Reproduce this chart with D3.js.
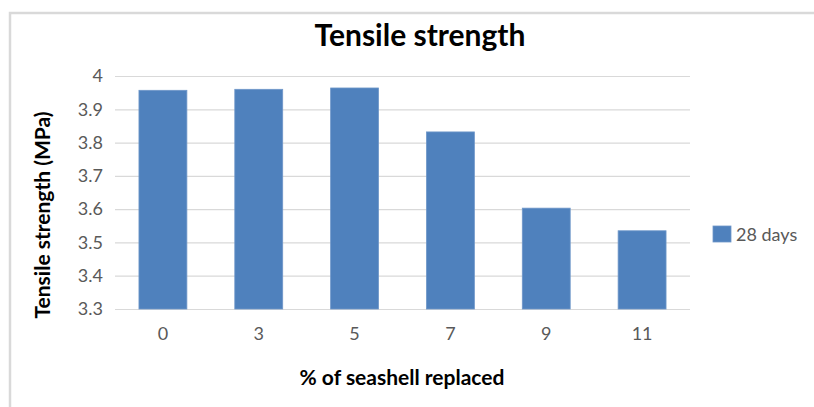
<!DOCTYPE html>
<html>
<head>
<meta charset="utf-8">
<script src="https://cdn.jsdelivr.net/npm/d3@7"></script>
<style>
  body { margin: 0; background: #fff; overflow: hidden; }
  text { font-family: Lato, "Open Sans", sans-serif; }
</style>
</head>
<body>
<div id="chart"></div>
<script>
// data
const categories = ["0", "3", "5", "7", "9", "11"];
const values28 = [3.957, 3.960, 3.964, 3.832, 3.603, 3.535];
const yTicks = [3.3, 3.4, 3.5, 3.6, 3.7, 3.8, 3.9, 4];
const seriesName = "28 days";

const width = 814, height = 407;
const margin = { top: 76, right: 124, bottom: 98, left: 115 };
const innerW = width - margin.left - margin.right;
const innerH = height - margin.top - margin.bottom;

const svg = d3.select("#chart")
    .append("svg")
    .attr("width", width)
    .attr("height", height)
    .style("display", "block");

// outer frame
svg.append("rect")
    .attr("x", 10).attr("y", 13)
    .attr("width", 900).attr("height", 500)
    .attr("fill", "none")
    .attr("stroke", "#d9d9d9")
    .attr("stroke-width", 2.5);

const g = svg.append("g")
    .attr("transform", `translate(${margin.left},${margin.top})`);

const x = d3.scaleBand()
    .domain(categories)
    .range([0, innerW])
    .paddingInner(0.5)
    .paddingOuter(0.25);

const y = d3.scaleLinear()
    .domain([3.3, 4])
    .range([innerH, 0]);

// gridlines + y labels
const yAxis = g.append("g")
    .call(d3.axisLeft(y).tickValues(yTicks).tickSize(-innerW).tickPadding(12)
        .tickFormat(d => d === 4 ? "4" : d3.format(".1f")(d)));
yAxis.select(".domain").remove();
yAxis.selectAll(".tick line").attr("stroke", "#d9d9d9").attr("stroke-width", 1.2);
yAxis.selectAll(".tick text")
    .attr("fill", "#595959")
    .style("font-size", "18px");

// bars
g.selectAll(".bar")
    .data(values28)
    .enter()
    .append("rect")
    .attr("class", "bar")
    .attr("x", (d, i) => x(categories[i]))
    .attr("y", d => y(d))
    .attr("width", x.bandwidth())
    .attr("height", d => innerH - y(d))
    .attr("fill", "#4f81bd")
    .attr("stroke", "#6f97c9")
    .attr("stroke-width", 0.8);

// x labels
const xAxis = g.append("g")
    .attr("transform", `translate(0,${innerH})`)
    .call(d3.axisBottom(x).tickSize(0).tickPadding(18));
xAxis.select(".domain").remove();
xAxis.selectAll(".tick text")
    .attr("fill", "#595959")
    .style("font-size", "18px");

// title
svg.append("text")
    .attr("x", 420)
    .attr("y", 46)
    .attr("text-anchor", "middle")
    .style("font-size", "30px")
    .style("font-weight", "bold")
    .attr("fill", "#000")
    .text("Tensile strength");

// axis titles
svg.append("text")
    .attr("x", 402)
    .attr("y", 385)
    .attr("text-anchor", "middle")
    .style("font-size", "21px")
    .style("font-weight", "bold")
    .attr("fill", "#000")
    .text("% of seashell replaced");

svg.append("text")
    .attr("transform", "translate(50,215) rotate(-90)")
    .attr("text-anchor", "middle")
    .style("font-size", "21px")
    .style("font-weight", "bold")
    .attr("fill", "#000")
    .text("Tensile strength (MPa)");

// legend
const legend = svg.append("g").attr("transform", "translate(713,226)");
legend.append("rect")
    .attr("width", 18).attr("height", 16)
    .attr("fill", "#4f81bd")
    .attr("stroke", "#6f97c9")
    .attr("stroke-width", 0.8);
legend.append("text")
    .attr("x", 23).attr("y", 15)
    .style("font-size", "18px")
    .attr("fill", "#595959")
    .text(seriesName);
</script>
</body>
</html>
